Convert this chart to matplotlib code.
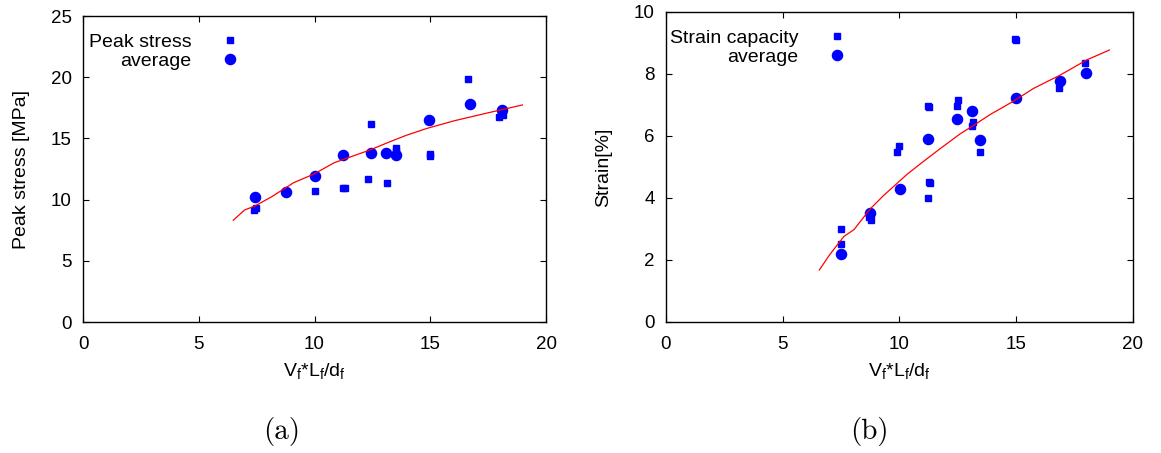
import matplotlib.pyplot as plt

plt.rcParams['font.family'] = ['Liberation Sans', 'DejaVu Sans']
plt.rcParams['mathtext.fontset'] = 'custom'
plt.rcParams['mathtext.rm'] = 'Liberation Sans'
plt.rcParams['mathtext.it'] = 'Liberation Sans:italic'

# (a) peak stress
stress_x = [7.39, 7.46, 10.0, 11.21, 11.30, 12.33, 12.45, 13.12, 13.53, 13.53,
            15.0, 14.98, 16.65, 17.97, 18.15]
stress_y = [9.18, 9.35, 10.73, 10.98, 10.98, 11.7, 16.2, 11.39, 14.2, 14.0,
            13.7, 13.6, 19.9, 16.77, 16.93]
stress_avg_x = [7.43, 8.76, 10.0, 11.21, 12.45, 13.08, 13.54, 14.96, 16.72, 18.08]
stress_avg_y = [10.22, 10.65, 11.93, 13.64, 13.8, 13.78, 13.64, 16.47, 17.8, 17.36]
stress_fit_x = [6.49, 6.98, 7.42, 8.15, 9.10, 9.97, 10.85, 11.65, 12.38, 13.25,
                13.98, 14.85, 16.02, 17.48, 18.5, 18.98]
stress_fit_y = [8.32, 9.16, 9.48, 10.24, 11.39, 12.09, 13.02, 13.56, 14.05, 14.73,
                15.27, 15.82, 16.44, 17.09, 17.53, 17.74]

# (b) strain capacity
strain_x = [14.97, 15.01, 17.96, 16.84, 12.52, 12.48, 11.24, 11.27, 13.15, 13.12,
            13.46, 9.97, 9.91, 11.26, 11.29, 11.22, 8.70, 8.77, 7.48, 7.49]
strain_y = [9.12, 9.09, 8.34, 7.55, 7.15, 6.97, 6.97, 6.94, 6.45, 6.32,
            5.48, 5.66, 5.48, 4.51, 4.48, 3.99, 3.38, 3.27, 2.99, 2.50]
strain_avg_x = [7.49, 8.72, 10.01, 11.22, 12.46, 13.12, 13.46, 15.01, 16.88, 17.98]
strain_avg_y = [2.17, 3.51, 4.27, 5.91, 6.55, 6.80, 5.86, 7.21, 7.78, 8.02]
strain_fit_x = [6.57, 7.02, 7.62, 8.05, 8.76, 9.33, 10.33, 11.04, 11.75, 12.61,
                13.18, 13.89, 14.89, 15.74, 16.88, 18.02, 18.99]
strain_fit_y = [1.67, 2.17, 2.75, 2.97, 3.65, 4.08, 4.76, 5.18, 5.59, 6.07,
                6.34, 6.69, 7.12, 7.53, 7.96, 8.45, 8.77]

xlabel = r'V$_\mathrm{f}$*L$_\mathrm{f}$/d$_\mathrm{f}$'

fig = plt.figure(figsize=(11.61, 4.53), dpi=100)
ax1 = fig.add_axes([0.0715, 0.289, 0.3988, 0.6755])
ax2 = fig.add_axes([0.5736, 0.2899, 0.4022, 0.6837])


def draw_panel(ax, xs, ys, ax_, ay_, fx, fy, label, ylabel, ylim, yticks, key_x, key_y):
    sq, = ax.plot(xs, ys, 's', color='#0000ff', markersize=3.7, linestyle='none')
    ci, = ax.plot(ax_, ay_, 'o', color='#0000ff', markersize=7.3, linestyle='none')
    ax.plot(fx, fy, '-', color='#ff0000', linewidth=0.9)
    ax.set_xlim(0, 20)
    ax.set_ylim(*ylim)
    ax.set_xticks([0, 5, 10, 15, 20])
    ax.set_yticks(yticks)
    ax.tick_params(direction='in', top=True, right=True, labelsize=13.5, length=4, width=0.8)
    ax.tick_params(axis='x', pad=10)
    ax.tick_params(axis='y', pad=8)
    ax.set_xlabel(xlabel, fontsize=14)
    ax.set_ylabel(ylabel, fontsize=14)
    ax.xaxis.set_label_coords(0.5, -0.128)
    ax.yaxis.set_label_coords(-0.115, 0.5)
    for s in ax.spines.values():
        s.set_linewidth(1.0)

    # gnuplot-style key: right-aligned text, symbol after it, one legend per row
    opts = dict(loc='center right', markerfirst=False, frameon=False, fontsize=14,
                handlelength=0.8, handletextpad=1.6, borderpad=0, borderaxespad=0)
    leg1 = ax.legend([sq], [label], bbox_to_anchor=(key_x, key_y[0]), **opts)
    ax.add_artist(leg1)
    ax.legend([ci], ['average'], bbox_to_anchor=(key_x, key_y[1]), **opts)


draw_panel(ax1, stress_x, stress_y, stress_avg_x, stress_avg_y, stress_fit_x, stress_fit_y,
           'Peak stress', 'Peak stress [MPa]', (0, 25), [0, 5, 10, 15, 20, 25],
           0.335, (0.915, 0.853))
draw_panel(ax2, strain_x, strain_y, strain_avg_x, strain_avg_y, strain_fit_x, strain_fit_y,
           'Strain capacity', 'Strain[%]', (0, 10), [0, 2, 4, 6, 8, 10],
           0.384, (0.916, 0.855))

fig.text(281.7 / 1161, 1 - 431 / 453, '(a)', family='cmr10', fontsize=21, ha='center', va='center')
fig.text(869.3 / 1161, 1 - 431 / 453, '(b)', family='cmr10', fontsize=21, ha='center', va='center')

fig.savefig('out.png', dpi=100)
